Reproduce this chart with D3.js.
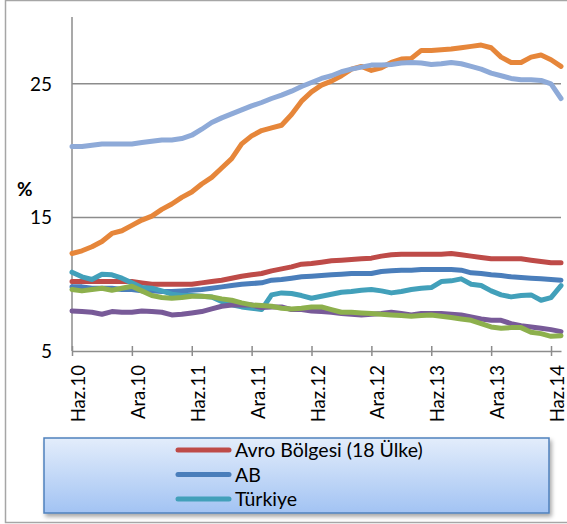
<!DOCTYPE html>
<html><head><meta charset="utf-8">
<script src="https://cdn.jsdelivr.net/npm/d3@7"></script>
<style>
html,body{margin:0;padding:0;background:#fff;}
svg{display:block;font-family:Lato,"Open Sans",sans-serif;}
</style></head>
<body><svg id="c" width="567" height="524"></svg>
<script>
const categories = ["Haz.10","Tem.10","Ağu.10","Eyl.10","Eki.10","Kas.10","Ara.10","Oca.11","Şub.11","Mar.11","Nis.11","May.11",
"Haz.11","Tem.11","Ağu.11","Eyl.11","Eki.11","Kas.11","Ara.11","Oca.12","Şub.12","Mar.12","Nis.12","May.12",
"Haz.12","Tem.12","Ağu.12","Eyl.12","Eki.12","Kas.12","Ara.12","Oca.13","Şub.13","Mar.13","Nis.13","May.13",
"Haz.13","Tem.13","Ağu.13","Eyl.13","Eki.13","Kas.13","Ara.13","Oca.14","Şub.14","Mar.14","Nis.14","May.14",
"Haz.14","Tem.14"];
const tickLabels = ["Haz.10","Ara.10","Haz.11","Ara.11","Haz.12","Ara.12","Haz.13","Ara.13","Haz.14"];
const yTicks = [5, 15, 25];
const yLabel = "%";

const avroBolgesi = [10.2,10.2,10.2,10.2,10.2,10.2,10.2,10.1,10.0,10.0, 10.0,10.0,10.0,10.1,10.2,10.3,10.45,10.6,10.7,10.8,
  11.0,11.15,11.3,11.5,11.55,11.65,11.75,11.8,11.85,11.9, 11.95,12.1,12.2,12.25,12.25,12.25,12.25,12.25,12.3,12.2,
  12.1,12.0,11.9,11.9,11.9,11.9,11.8,11.7,11.6,11.6];
const ab = [9.8,9.8,9.7,9.7,9.7,9.6,9.6,9.5,9.5,9.45, 9.45,9.5,9.55,9.6,9.7,9.8,9.9,10.0,10.05,10.1,
  10.3,10.35,10.45,10.55,10.6,10.65,10.7,10.75,10.8,10.8, 10.8,10.95,11.0,11.05,11.05,11.1,11.1,11.1,11.1,11.05,
  10.85,10.8,10.7,10.65,10.55,10.5,10.45,10.4,10.35,10.3];
const turkiye = [10.9,10.55,10.35,10.75,10.7,10.45,10.1,9.75,9.7,9.5, 9.25,9.15,9.15,9.1,9.05,8.7,8.45,8.3,8.2,8.1,
  9.2,9.35,9.3,9.15,8.95,9.1,9.25,9.4,9.45,9.55, 9.6,9.5,9.35,9.45,9.6,9.7,9.75,10.2,10.25,10.4,
  10.0,9.9,9.5,9.2,9.05,9.15,9.2,8.8,9.0,9.9];
const seriesOrange = [12.3,12.5,12.8,13.2,13.8,14.0,14.4,14.8,15.1,15.6, 16.0,16.5,16.9,17.5,18.0,18.7,19.4,20.5,21.1,21.5,
  21.7,21.9,22.7,23.7,24.4,24.9,25.2,25.6,26.1,26.3, 26.0,26.2,26.6,26.85,26.9,27.5,27.5,27.55,27.6,27.7,
  27.8,27.9,27.7,27.0,26.6,26.6,27.0,27.15,26.8,26.3];
const seriesLightBlue = [20.3,20.3,20.4,20.5,20.5,20.5,20.5,20.6,20.7,20.8, 20.8,20.9,21.15,21.6,22.1,22.45,22.75,23.05,23.35,23.6,
  23.9,24.15,24.45,24.8,25.1,25.4,25.6,25.9,26.1,26.25, 26.4,26.4,26.45,26.55,26.6,26.55,26.45,26.5,26.6,26.5,
  26.3,26.1,25.8,25.6,25.4,25.3,25.3,25.25,25.0,23.9];
const seriesPurple = [8.0,7.95,7.9,7.75,7.95,7.9,7.9,8.0,7.95,7.9, 7.7,7.75,7.85,7.95,8.15,8.35,8.45,8.45,8.45,8.25,
  8.3,8.3,8.1,8.1,8.0,7.95,7.9,7.8,7.75,7.7, 7.75,7.8,7.9,7.8,7.7,7.8,7.8,7.8,7.75,7.7,
  7.55,7.4,7.3,7.3,7.05,6.9,6.8,6.7,6.6,6.45];
const seriesGreen = [9.6,9.5,9.6,9.7,9.55,9.7,9.85,9.5,9.15,9.0, 8.95,9.0,9.1,9.1,9.05,8.9,8.8,8.6,8.45,8.4,
  8.35,8.2,8.15,8.2,8.3,8.3,8.1,7.9,7.9,7.85, 7.8,7.75,7.7,7.65,7.6,7.65,7.7,7.6,7.5,7.4,
  7.3,7.05,6.8,6.7,6.75,6.75,6.4,6.3,6.1,6.15];

const seriesNames = ["Avro Bölgesi (18 Ülke)", "AB", "Türkiye", "s4", "s5", "s6", "s7"];
const seriesData = [avroBolgesi, ab, turkiye, seriesOrange, seriesLightBlue, seriesPurple, seriesGreen];
const seriesColors = ["#be4b48", "#4a7ebb", "#42a0ba", "#e6863a", "#8eaad8", "#785a98", "#8db04d"];
const legendCount = 3;

const svg = d3.select("#c");
svg.append("rect").attr("x",0).attr("y",0).attr("width",567).attr("height",524).attr("fill","#fff");
// outer frame
svg.append("rect").attr("x",5.5).attr("y",0.5).attr("width",600).attr("height",522)
  .attr("fill","none").attr("stroke","#a6a6a6").attr("stroke-width",1.5);

const x = d3.scalePoint().domain(categories).range([72, 561]);
const y = d3.scaleLinear().domain([5, 30]).range([351, 17]);

// gridlines
svg.append("g").selectAll("line").data(yTicks.filter(d => d !== 5)).join("line")
  .attr("x1", 72).attr("x2", 561).attr("y1", d => y(d)).attr("y2", d => y(d))
  .attr("stroke", "#8c8c8c").attr("stroke-width", 1.5);

// y axis line
svg.append("line").attr("x1",72).attr("x2",72).attr("y1",y(30)).attr("y2",y(5))
  .attr("stroke","#8c8c8c").attr("stroke-width",1.5);

// y tick labels
svg.append("g").selectAll("text").data(yTicks).join("text")
  .attr("x", 52).attr("y", d => y(d)).attr("dy", "0.36em").attr("text-anchor", "end")
  .attr("font-size", 19).attr("fill", "#000").text(d => d);

svg.append("text").attr("x", 17).attr("y", 196).attr("font-size", 19).attr("font-weight", "bold")
  .attr("fill","#000").text(yLabel);

// x axis
const xAxis = d3.axisBottom(x).tickValues(tickLabels).tickSize(0).tickFormat(d => d);
const gx = svg.append("g").attr("transform", `translate(0,${y(5)})`).call(xAxis);
gx.select(".domain").attr("stroke","#8c8c8c").attr("stroke-width",1.5);
gx.selectAll(".tick").each(function(d){
  const t = d3.select(this);
  t.append("line").attr("y1",-5).attr("y2",5).attr("stroke","#8c8c8c").attr("stroke-width",1.5);
});
gx.selectAll(".tick text").attr("transform","rotate(-90)")
  .attr("x", -14).attr("y", 12.5).attr("dy", 0).attr("text-anchor","end")
  .attr("font-size", 18.5).attr("fill","#000").attr("font-family","Lato");

// lines
const line = d3.line().x((d,i) => x(categories[i])).y(d => y(d));
svg.append("g").selectAll("path").data(seriesData).join("path")
  .attr("d", d => line(d)).attr("fill","none")
  .attr("stroke", (d,i) => seriesColors[i]).attr("stroke-width", 5)
  .attr("stroke-linejoin","round").attr("stroke-linecap","round");

// legend
const defs = svg.append("defs");
const grad = defs.append("linearGradient").attr("id","lg").attr("x1",0).attr("y1",0).attr("x2",0).attr("y2",1);
grad.append("stop").attr("offset","0%").attr("stop-color","#e3edfb");
grad.append("stop").attr("offset","100%").attr("stop-color","#a2c3f3");
const filt = defs.append("filter").attr("id","sh").attr("x","-5%").attr("y","-20%").attr("width","115%").attr("height","160%");
filt.append("feDropShadow").attr("dx",2).attr("dy",3).attr("stdDeviation",2).attr("flood-color","#000").attr("flood-opacity",0.35);

svg.append("rect").attr("x",44).attr("y",438).attr("width",505).attr("height",75)
  .attr("fill","url(#lg)").attr("stroke","#4f81bd").attr("stroke-width",1.5).attr("filter","url(#sh)");

const lg = svg.append("g").selectAll("g").data(seriesNames.slice(0, legendCount)).join("g")
  .attr("transform", (d,i) => `translate(0,${450 + i*24.5})`);
lg.append("line").attr("x1",178).attr("x2",229).attr("y1",0).attr("y2",0)
  .attr("stroke",(d,i) => seriesColors[i]).attr("stroke-width",5).attr("stroke-linecap","round");
lg.append("text").attr("x",235).attr("y",0).attr("dy","0.36em").attr("font-size",19.5)
  .attr("fill","#000").text(d => d);
</script></body></html>
